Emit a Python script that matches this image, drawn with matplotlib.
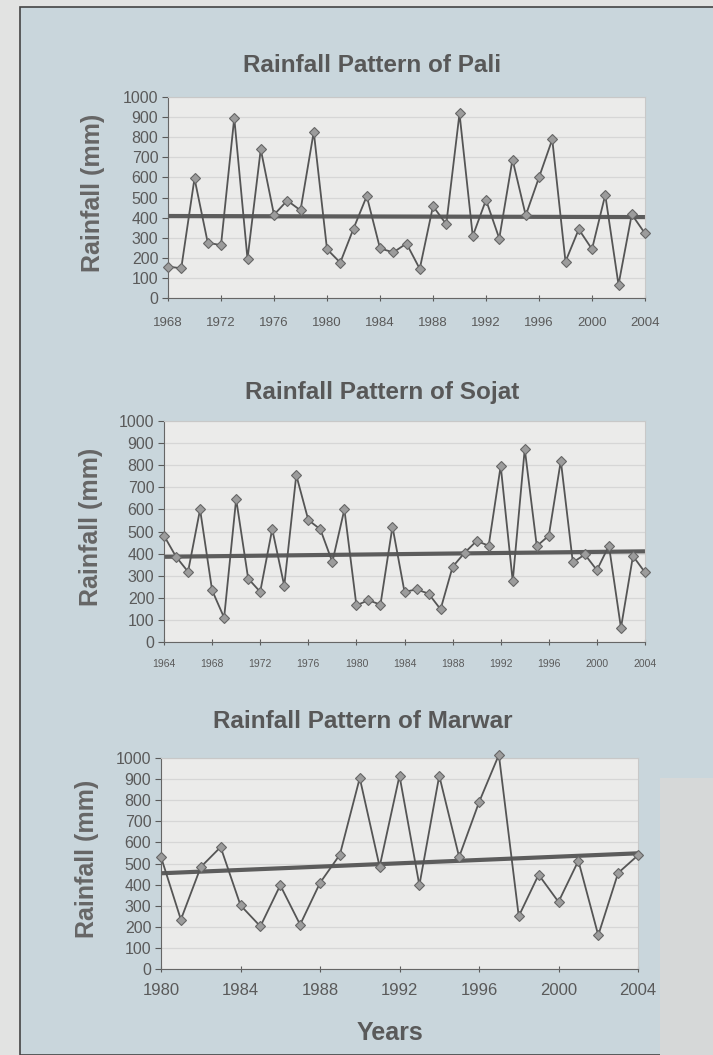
import numpy as np
import matplotlib.pyplot as plt
from matplotlib.patches import Rectangle

plt.rcParams['font.family'] = ['Liberation Sans', 'DejaVu Sans']

# rainfall (mm)
pali_years = np.arange(1968, 2005)
pali_rain = [156, 148, 595, 275, 263, 896, 194, 740, 414, 485, 436, 827, 243,
             176, 345, 507, 247, 227, 271, 145, 457, 367, 918, 308, 488, 296,
             689, 411, 600, 789, 181, 342, 243, 513, 66, 416, 321]

sojat_years = np.arange(1964, 2005)
sojat_rain = [481, 386, 318, 600, 234, 110, 647, 287, 227, 511, 254, 755, 552,
              510, 362, 600, 166, 189, 169, 522, 227, 238, 219, 148, 340, 404,
              457, 436, 797, 275, 874, 434, 481, 820, 360, 396, 325, 436, 64,
              389, 315]

marwar_years = np.arange(1980, 2005)
marwar_rain = [531, 234, 483, 578, 302, 202, 397, 210, 408, 542, 905, 485,
               916, 397, 916, 531, 790, 1015, 250, 447, 318, 513, 160, 455,
               539]

pali_ticks = np.arange(1968, 2005, 4)
sojat_ticks = np.arange(1964, 2005, 4)
marwar_ticks = np.arange(1980, 2005, 4)

W, H = 713, 1055
fig = plt.figure(figsize=(W / 100, H / 100), dpi=100)
fig.patch.set_facecolor('#e2e3e2')
# blue-grey page behind the charts
fig.patches.append(Rectangle((20 / W, 0), 1, (H - 7) / H, transform=fig.transFigure,
                             facecolor='#c9d6dc', edgecolor='#444444', lw=1.2, zorder=-10))
fig.patches.append(Rectangle((660 / W, 0), 1, (H - 778) / H, transform=fig.transFigure,
                             facecolor='#d6d8d8', edgecolor='none', zorder=-9))

tc = '#5a5a5a'


def panel(box, years, rain, ticks, title, tsize, tpad, title_xy, ylab_x):
    l, r, t, b = box
    ax = fig.add_axes([l / W, (H - b) / H, (r - l) / W, (b - t) / H])
    ax.set_facecolor('#ebebea')
    ax.plot(years, rain, color='#555555', lw=1.3, marker='D', ms=5.5,
            mfc='#9c9c9c', mec='#666666', mew=0.8, clip_on=False, zorder=3)
    k, c = np.polyfit(years, rain, 1)
    ax.plot(years[[0, -1]], k * years[[0, -1]] + c, color='#5c5c5c', lw=3,
            solid_capstyle='butt', zorder=2)
    ax.set_xlim(years[0], years[-1])
    ax.set_ylim(0, 1000)
    ax.set_yticks(np.arange(0, 1001, 100))
    ax.set_xticks(ticks)
    ax.grid(axis='y', color='#d6d6d6', lw=0.9)
    ax.set_axisbelow(True)
    for s in ['left', 'bottom']:
        ax.spines[s].set_color('#666666')
    for s in ['top', 'right']:
        ax.spines[s].set_color('#c8c8c8')
    ax.tick_params(axis='y', labelsize=11.5, colors=tc, length=4, pad=3)
    ax.tick_params(axis='x', labelsize=tsize, colors=tc, length=4, direction='inout', pad=tpad)
    fig.text(ylab_x / W, (H - (t + b) / 2 + 5) / H, 'Rainfall (mm)', rotation=90,
             ha='center', va='center', fontsize=18, fontweight='bold', color='#666666')
    fig.text(title_xy[0] / W, (H - title_xy[1]) / H, title, ha='center', va='center',
             fontsize=17.5, fontweight='bold', color='#585858')
    return ax


panel((168, 645, 97, 298), pali_years, pali_rain, pali_ticks,
      'Rainfall Pattern of Pali', 9.5, 12, (372, 65), 93)
panel((164, 645, 421, 642), sojat_years, sojat_rain, sojat_ticks,
      'Rainfall Pattern of Sojat', 7.5, 10, (382, 393), 91)
panel((161, 638, 758, 969), marwar_years, marwar_rain, marwar_ticks,
      'Rainfall Pattern of Marwar', 12, 8, (363, 721), 87)

fig.text(390 / W, (H - 1033) / H, 'Years', ha='center', va='center',
         fontsize=18, fontweight='bold', color='#5a5a5a')

fig.savefig('out.png', dpi=100, facecolor=fig.get_facecolor())
